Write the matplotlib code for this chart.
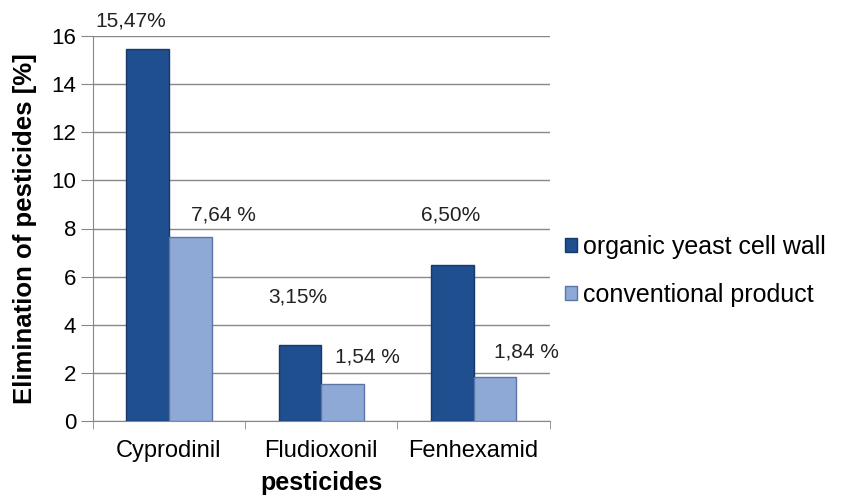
import matplotlib.pyplot as plt
import numpy as np

plt.rcParams['font.family'] = ['Liberation Sans', 'DejaVu Sans']

categories = ['Cyprodinil', 'Fludioxonil', 'Fenhexamid']
organic = [15.47, 3.15, 6.50]
conventional = [7.64, 1.54, 1.84]
organic_labels = ['15,47%', '3,15%', '6,50%']
conventional_labels = ['7,64 %', '1,54 %', '1,84 %']
series_names = ['organic yeast cell wall', 'conventional product']

fig = plt.figure(figsize=(8.59, 5.0), dpi=100)
ax = fig.add_axes([0.108, 0.158, 0.532, 0.770])

x = np.arange(len(categories))
width = 0.28

b1 = ax.bar(x - width / 2, organic, width, color='#1f4f8f', edgecolor='#163a6a',
            linewidth=1, label=series_names[0], zorder=3)
b2 = ax.bar(x + width / 2, conventional, width, color='#8fa9d6', edgecolor='#5a76a8',
            linewidth=1, label=series_names[1], zorder=3)

# value labels, nudged like in the original
org_dx = [-17, -2, -2]
org_dy = [28, 48, 50]
con_dx = [33, 25, 32]
con_dy = [22, 27, 25]
for rect, lab, dx, dy in zip(b1, organic_labels, org_dx, org_dy):
    ax.annotate(lab, (rect.get_x() + rect.get_width() / 2, rect.get_height()),
                xytext=(dx, dy), textcoords='offset pixels', ha='center', va='center',
                fontsize=15, color='#222222', annotation_clip=False)
for rect, lab, dx, dy in zip(b2, conventional_labels, con_dx, con_dy):
    ax.annotate(lab, (rect.get_x() + rect.get_width() / 2, rect.get_height()),
                xytext=(dx, dy), textcoords='offset pixels', ha='center', va='center',
                fontsize=15, color='#222222', annotation_clip=False)

ax.set_xlim(-0.5, 2.5)
ax.set_ylim(0, 16)
ax.set_yticks(range(0, 17, 2))
ax.set_xticks(x)
ax.set_xticklabels(categories, fontsize=17)
ax.set_xticks([-0.5, 0.5, 1.5, 2.5], minor=True)
ax.tick_params(axis='x', which='major', length=0, pad=14)
ax.tick_params(axis='x', which='minor', length=6, color='#888888')
ax.tick_params(axis='y', labelsize=16, length=9, color='#888888', pad=3)

ax.yaxis.grid(True, color='#888888', linewidth=1, zorder=0)
for s in ['top', 'right']:
    ax.spines[s].set_visible(False)
ax.spines['left'].set_color('#888888')
ax.spines['bottom'].set_color('#888888')

ax.set_ylabel('Elimination of pesticides [%]', fontsize=18.5, fontweight='bold', labelpad=10)
ax.set_xlabel('pesticides', fontsize=18, fontweight='bold', labelpad=6)

ax.legend(loc='center left', bbox_to_anchor=(0.985, 0.39), frameon=False, fontsize=18,
          handlelength=0.45, handleheight=0.45, handletextpad=0.25, labelspacing=0.95)

fig.savefig('out.png', dpi=100)
